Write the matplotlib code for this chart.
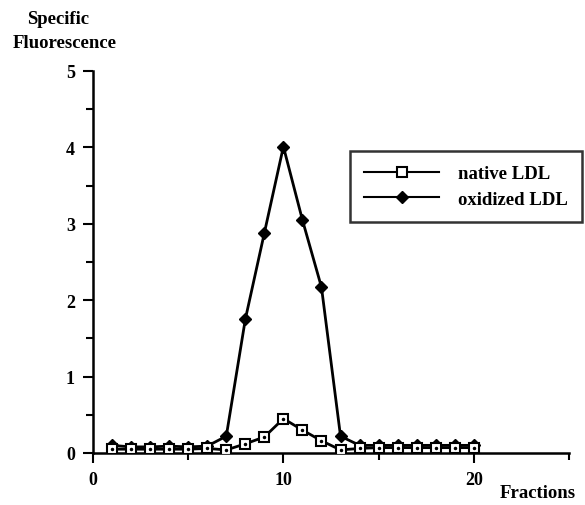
import matplotlib
matplotlib.use("Agg")
import matplotlib.pyplot as plt
from matplotlib.ticker import MultipleLocator
from matplotlib.lines import Line2D

fractions = list(range(1, 21))
native = [0.05, 0.05, 0.05, 0.05, 0.05, 0.06, 0.04, 0.12, 0.21, 0.45, 0.30, 0.16, 0.04,
          0.06, 0.07, 0.07, 0.07, 0.07, 0.07, 0.07]
oxidized = [0.10, 0.08, 0.08, 0.09, 0.08, 0.09, 0.22, 1.75, 2.88, 4.01, 3.05, 2.17, 0.22,
            0.10, 0.10, 0.10, 0.10, 0.10, 0.10, 0.10]

plt.rcParams['font.family'] = ['Liberation Serif', 'DejaVu Serif']

fig = plt.figure(figsize=(5.85, 5.06), dpi=100)
ax = fig.add_axes([93/585, 1 - 454/506, (569 - 93)/585, (454 - 72)/506])

ax.plot(fractions, oxidized, color='black', lw=2, marker='D', ms=6.5,
        mfc='black', mec='black', label='oxidized LDL', zorder=3)
ax.plot(fractions, native, color='black', lw=2, marker='s', ms=7,
        mfc='white', mec='black', mew=1.5, label='native LDL', zorder=4)
ax.plot(fractions, native, ls='none', marker='.', ms=3, color='black', zorder=5)

ax.set_xlim(0, 25)
ax.set_ylim(0, 5)
ax.spines['top'].set_visible(False)
ax.spines['right'].set_visible(False)
ax.spines['left'].set_linewidth(1.8)
ax.spines['bottom'].set_linewidth(1.8)
ax.set_xticks([0, 10, 20])
ax.xaxis.set_minor_locator(MultipleLocator(5))
ax.set_yticks([0, 1, 2, 3, 4, 5])
ax.yaxis.set_minor_locator(MultipleLocator(0.5))
ax.tick_params(axis='both', which='major', direction='out', length=7, width=1.5,
               labelsize=13, pad=6)
ax.tick_params(axis='both', which='minor', direction='out', length=5, width=1.5)
for lab in ax.get_xticklabels() + ax.get_yticklabels():
    lab.set_fontweight('bold')

h_native = Line2D([], [], color='black', lw=1.5, marker='s', ms=7, mfc='white', mec='black', mew=1.5)
h_ox = Line2D([], [], color='black', lw=1.5, marker='D', ms=6.5, mfc='black', mec='black')
leg = fig.legend([h_native, h_ox], ['native LDL', 'oxidized LDL'],
                 loc='upper left', bbox_to_anchor=(350/585, 1 - 152/506), frameon=True,
                 fancybox=False, edgecolor='black', handlelength=4.0, borderaxespad=0,
                 prop={'size': 13.5, 'weight': 'bold'}, borderpad=0.75, labelspacing=0.45,
                 handletextpad=1.0)
leg.get_frame().set_linewidth(1.8)

fig.text(58/585, 1 - 11/506, 'Specific', ha='center', va='top', fontsize=13.5, fontweight='bold')
fig.text(65/585, 1 - 35/506, 'Fluorescence', ha='center', va='top', fontsize=13.5, fontweight='bold')
fig.text(538/585, 1 - 502/506, 'Fractions', ha='center', va='bottom', fontsize=13.5, fontweight='bold')

fig.savefig('out.png', dpi=100)
